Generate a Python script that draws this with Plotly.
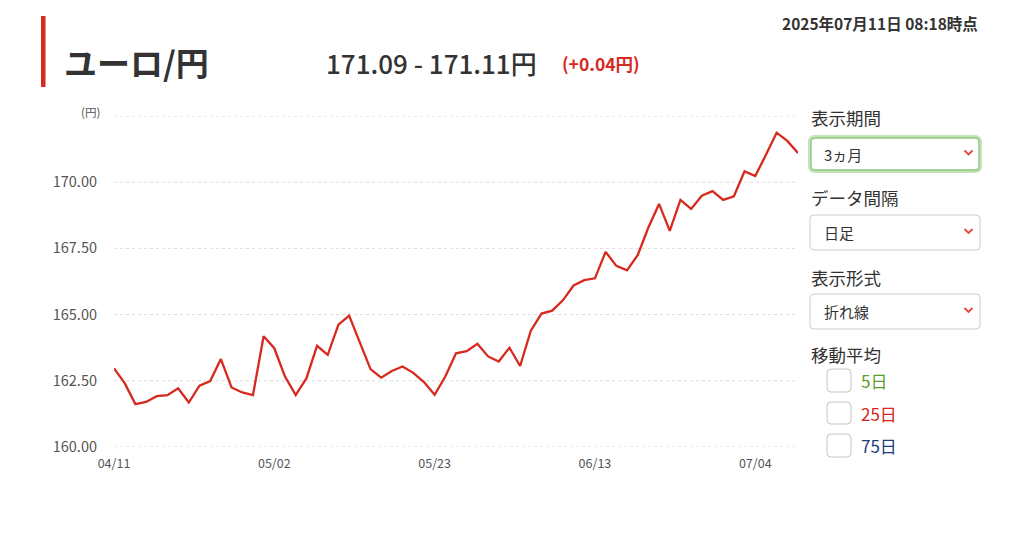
import plotly.graph_objects as go

# ---- data ----
dates = ["04/11",
         "04/14", "04/15", "04/16", "04/17", "04/18",
         "04/21", "04/22", "04/23", "04/24", "04/25",
         "04/28", "04/29", "04/30", "05/01", "05/02",
         "05/05", "05/06", "05/07", "05/08", "05/09",
         "05/12", "05/13", "05/14", "05/15", "05/16",
         "05/19", "05/20", "05/21", "05/22", "05/23",
         "05/26", "05/27", "05/28", "05/29", "05/30",
         "06/02", "06/03", "06/04", "06/05", "06/06",
         "06/09", "06/10", "06/11", "06/12", "06/13",
         "06/16", "06/17", "06/18", "06/19", "06/20",
         "06/23", "06/24", "06/25", "06/26", "06/27",
         "06/30", "07/01", "07/02", "07/03", "07/04",
         "07/07", "07/08", "07/09", "07/10"]
rates = [162.97,
         162.41, 161.62, 161.70, 161.92, 161.96,
         162.22, 161.68, 162.32, 162.49, 163.32,
         162.25, 162.06, 161.96, 164.18, 163.73,
         162.66, 161.96, 162.59, 163.82, 163.48,
         164.62, 164.96, 163.95, 162.94, 162.62,
         162.87, 163.04, 162.80, 162.45, 161.97,
         162.66, 163.54, 163.62, 163.90, 163.42,
         163.23, 163.75, 163.06, 164.39, 165.04,
         165.15, 165.54, 166.10, 166.30, 166.37,
         167.37, 166.84, 166.67, 167.24, 168.29,
         169.18, 168.16, 169.33, 168.99, 169.49,
         169.66, 169.33, 169.47, 170.41, 170.23,
         171.04, 171.87, 171.56, 171.10]
x_ticks = ["04/11", "05/02", "05/23", "06/13", "07/04"]
y_ticks = [160.0, 162.5, 165.0, 167.5, 170.0]
y_grid = [160.0, 162.5, 165.0, 167.5, 170.0, 172.5]

title = "ユーロ/円"
price_text = "171.09 - 171.11円"
change_text = "(+0.04円)"
timestamp = "2025年07月11日 08:18時点"
select_labels = ["表示期間", "データ間隔", "表示形式"]
select_values = ["3ヵ月", "日足", "折れ線"]
ma_label = "移動平均"
ma_options = ["5日", "25日", "75日"]
ma_colors = ["#5a9e2f", "#d9261c", "#1d3d7a"]

# ---- layout geometry (page pixels; the page body adds an 8px offset) ----
OFF = 8
W, H = 1024 - OFF, 554 - OFF
PL, PR, PT, PB = 114, 798, 116, 447          # plot area in page pixels
ML, MT = PL - OFF, PT - OFF
MR, MB = W - (PR - OFF), H - (PB - OFF)
PW, PH = PR - PL, PB - PT
FONT = "Noto Sans CJK JP, Noto Sans, sans-serif"
RED = "#d7291e"


def px(x):
    return (x - PL) / PW


def py(y):
    return (PB - y) / PH


def rrect(x0, y0, x1, y1, r):
    pts = [
        f"M{px(x0 + r)},{py(y0)}",
        f"L{px(x1 - r)},{py(y0)}",
        f"Q{px(x1)},{py(y0)} {px(x1)},{py(y0 + r)}",
        f"L{px(x1)},{py(y1 - r)}",
        f"Q{px(x1)},{py(y1)} {px(x1 - r)},{py(y1)}",
        f"L{px(x0 + r)},{py(y1)}",
        f"Q{px(x0)},{py(y1)} {px(x0)},{py(y1 - r)}",
        f"L{px(x0)},{py(y0 + r)}",
        f"Q{px(x0)},{py(y0)} {px(x0 + r)},{py(y0)}",
        "Z",
    ]
    return " ".join(pts)


fig = go.Figure()
fig.add_trace(go.Scatter(
    x=dates, y=rates, mode="lines",
    line=dict(color=RED, width=2.3),
    cliponaxis=False, hoverinfo="x+y", showlegend=False,
))

shapes = []
annotations = []

for g in y_grid:
    shapes.append(dict(type="line", xref="paper", yref="y", x0=0, x1=1, y0=g, y1=g,
                       line=dict(color="#dadada", width=1, dash="dot"), layer="below"))

shapes.append(dict(type="rect", xref="paper", yref="paper",
                   x0=px(41), x1=px(45.5), y0=py(16), y1=py(87),
                   fillcolor=RED, line=dict(width=0)))

annotations += [
    dict(text=f"<b>{title}</b>", x=px(62), y=py(62), xanchor="left", yanchor="middle",
         font=dict(size=33, color="#333333", family=FONT)),
    dict(text=price_text, x=px(324), y=py(62), xanchor="left", yanchor="middle",
         font=dict(size=26, color="#333333", family=FONT, weight=500)),
    dict(text=f"<b>{change_text}</b>", x=px(560), y=py(64), xanchor="left", yanchor="middle",
         font=dict(size=17.5, color=RED, family=FONT)),
    dict(text=f"<b>{timestamp}</b>", x=px(980), y=py(23), xanchor="right", yanchor="middle",
         font=dict(size=15.5, color="#333333", family=FONT)),
    dict(text="(円)", x=px(102), y=py(112), xanchor="right", yanchor="middle",
         font=dict(size=11.5, color="#555555", family=FONT)),
]

label_y = [118, 197, 277]
box_y = [(137, 171), (215, 250), (294, 329)]
for i, (lab, val) in enumerate(zip(select_labels, select_values)):
    annotations.append(dict(text=lab, x=px(809), y=py(label_y[i]), xanchor="left", yanchor="middle",
                            font=dict(size=17.5, color="#333333", family=FONT)))
    y0, y1 = box_y[i]
    if i == 0:
        shapes.append(dict(type="path", xref="paper", yref="paper", path=rrect(810, y0, 980, y1, 5),
                           line=dict(color="rgba(140,200,120,0.5)", width=4), fillcolor="white"))
        shapes.append(dict(type="path", xref="paper", yref="paper", path=rrect(811, y0 + 1, 979, y1 - 1, 4),
                           line=dict(color="#8fc77f", width=1.4), fillcolor="white"))
    else:
        shapes.append(dict(type="path", xref="paper", yref="paper", path=rrect(810, y0, 980, y1, 4),
                           line=dict(color="#cccccc", width=1), fillcolor="white"))
    cy = (y0 + y1) / 2
    annotations.append(dict(text=val, x=px(822), y=py(cy), xanchor="left", yanchor="middle",
                            font=dict(size=15, color="#333333", family=FONT)))
    shapes.append(dict(type="path", xref="paper", yref="paper",
                       path=f"M{px(964.5)},{py(cy - 3.5)} L{px(968.5)},{py(cy + 0.5)} L{px(972.5)},{py(cy - 3.5)}",
                       line=dict(color="#e8453c", width=1.8)))

annotations.append(dict(text=ma_label, x=px(809), y=py(354), xanchor="left", yanchor="middle",
                        font=dict(size=17.5, color="#333333", family=FONT)))
cb_y = [(369, 392), (402, 424), (434, 457)]
for (y0, y1), lab, col in zip(cb_y, ma_options, ma_colors):
    shapes.append(dict(type="path", xref="paper", yref="paper", path=rrect(827, y0, 851, y1, 4),
                       line=dict(color="#c4c4c4", width=1), fillcolor="white"))
    annotations.append(dict(text=lab, x=px(859), y=py((y0 + y1) / 2), xanchor="left", yanchor="middle",
                            font=dict(size=17, color=col, family=FONT)))

for a in annotations:
    a.update(xref="paper", yref="paper", showarrow=False)

fig.update_layout(
    width=W, height=H,
    margin=dict(l=ML, r=MR, t=MT, b=MB),
    paper_bgcolor="white", plot_bgcolor="white",
    font=dict(family=FONT, color="#555555"),
    shapes=shapes, annotations=annotations,
    xaxis=dict(type="category", categoryorder="array", categoryarray=dates,
               range=[0, len(dates) - 1], tickmode="array", tickvals=x_ticks, ticktext=x_ticks,
               showgrid=False, zeroline=False, showline=False, ticks="",
               tickfont=dict(size=12.5, color="#555555", family=FONT), ticklabelstandoff=7,
               fixedrange=True),
    yaxis=dict(range=[160, 172.5], tickmode="array", tickvals=y_ticks,
               ticktext=[f"{v:.2f}" for v in y_ticks],
               showgrid=False, zeroline=False, showline=False, ticks="",
               tickfont=dict(size=14.5, color="#555555", family=FONT), ticklabelstandoff=16,
               fixedrange=True),
    hovermode="closest",
)

fig.write_html("out.html", config={"displayModeBar": False})
